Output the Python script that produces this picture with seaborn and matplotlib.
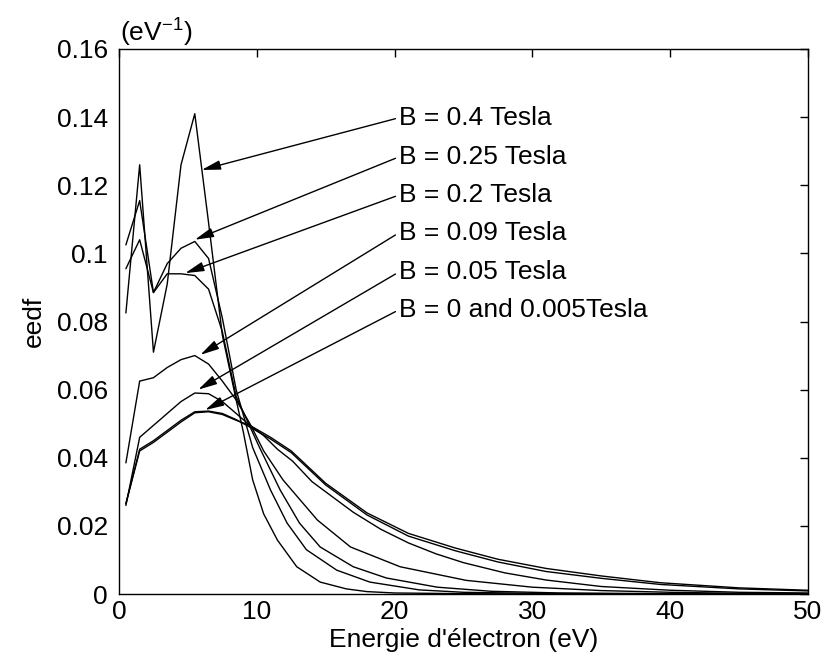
import matplotlib
matplotlib.use("Agg")
import matplotlib.pyplot as plt
import seaborn as sns
import pandas as pd

# ---------------- data ----------------
B04_x = [0.5, 1.5, 2.5, 3.5, 4.5, 5.5, 6.5, 7.5, 8.5, 9.0, 9.7, 10.5, 11.5, 12.9, 14.6, 16.5, 18, 20, 25, 30, 40, 50]
B04_y = [0.0825, 0.126, 0.071, 0.091, 0.126, 0.141, 0.109, 0.076, 0.057, 0.048, 0.0335, 0.0235, 0.0158, 0.008, 0.0035, 0.0015, 0.0007, 0.0003, 0.0001, 0.0, 0.0, 0.0]

B025_x = [0.5, 1.5, 2.5, 3.5, 4.5, 5.5, 6.5, 7.5, 8.5, 9.7, 11, 12.2, 13.6, 15.8, 18.2, 21.8, 25, 30, 40, 50]
B025_y = [0.1025, 0.1155, 0.0885, 0.097, 0.1015, 0.1035, 0.0985, 0.081, 0.06, 0.043, 0.0305, 0.0208, 0.013, 0.007, 0.0035, 0.0012, 0.0005, 0.0002, 0.0, 0.0]

B02_x = [0.5, 1.5, 2.5, 3.5, 4.5, 5.5, 6.5, 7.5, 8.5, 10.2, 11.7, 13.1, 14.6, 17, 19.4, 23.1, 27, 32, 40, 50]
B02_y = [0.0955, 0.104, 0.0885, 0.094, 0.094, 0.0935, 0.0895, 0.077, 0.058, 0.043, 0.0305, 0.0208, 0.0138, 0.008, 0.0047, 0.002, 0.0008, 0.0003, 0.0001, 0.0]

B009_x = [0.5, 1.5, 2.5, 3.5, 4.5, 5.5, 6.5, 7.5, 8.5, 9.5, 10.5, 11.9, 14.4, 16.8, 20.4, 25.2, 30, 35, 40, 45, 50]
B009_y = [0.0385, 0.0625, 0.0635, 0.0665, 0.0688, 0.07, 0.0675, 0.0625, 0.057, 0.05, 0.042, 0.0335, 0.0217, 0.0138, 0.008, 0.004, 0.002, 0.001, 0.0005, 0.0002, 0.0001]

B005_x = [0.5, 1.5, 2.5, 3.5, 4.5, 5.5, 6.5, 7.5, 8.5, 9.5, 10.5, 11.5, 12.6, 14, 15.5, 17, 19, 21, 23, 25, 28, 31, 35, 40, 45, 50]
B005_y = [0.026, 0.046, 0.0495, 0.053, 0.0565, 0.059, 0.0588, 0.0565, 0.053, 0.0495, 0.0465, 0.0425, 0.039, 0.033, 0.0285, 0.024, 0.019, 0.015, 0.0118, 0.0092, 0.0062, 0.0041, 0.0022, 0.0011, 0.0005, 0.0003]

B0_x = [0.5, 1.5, 2.5, 3.5, 4.5, 5.5, 6.5, 7.5, 8.5, 9.5, 11, 12.5, 15, 18, 21, 24.4, 27.5, 31, 35, 39.3, 45, 50]
B0_y = [0.0265, 0.042, 0.0445, 0.0475, 0.0505, 0.0532, 0.0535, 0.0527, 0.051, 0.0495, 0.046, 0.042, 0.0325, 0.0238, 0.0178, 0.0135, 0.0102, 0.0075, 0.0053, 0.0033, 0.0018, 0.0011]

B0005_x = [0.5, 1.5, 2.5, 3.5, 4.5, 5.5, 6.5, 7.5, 8.5, 9.5, 11, 12.5, 15, 18, 21, 24.4, 27.5, 31, 35, 39.3, 45, 50]
B0005_y = [0.0265, 0.0425, 0.045, 0.048, 0.051, 0.0535, 0.0537, 0.053, 0.0512, 0.049, 0.0455, 0.0415, 0.032, 0.0232, 0.017, 0.0127, 0.0094, 0.0066, 0.0046, 0.0028, 0.0015, 0.0009]

series = {
    "0.4": (B04_x, B04_y),
    "0.25": (B025_x, B025_y),
    "0.2": (B02_x, B02_y),
    "0.09": (B009_x, B009_y),
    "0.05": (B005_x, B005_y),
    "0": (B0_x, B0_y),
    "0.005": (B0005_x, B0005_y),
}

labels = ["B = 0.4 Tesla", "B = 0.25 Tesla", "B = 0.2 Tesla",
          "B = 0.09 Tesla", "B = 0.05 Tesla", "B = 0 and 0.005Tesla"]
# arrow tips (E, eedf) on the curves and label anchor (E, eedf)
tip_x = [6.0, 5.5, 4.8, 5.9, 5.75, 6.25]
tip_y = [0.1245, 0.1040, 0.0942, 0.0702, 0.0600, 0.0540]
lab_x = [20.3, 20.3, 20.3, 20.3, 20.3, 20.3]
lab_y = [0.1398, 0.1283, 0.1171, 0.1060, 0.0945, 0.0834]

xticks = [0, 10, 20, 30, 40, 50]
xticklabels = ["0", "10", "20", "30", "40", "50"]
yticks = [0, 0.02, 0.04, 0.06, 0.08, 0.10, 0.12, 0.14, 0.16]
yticklabels = ["0", "0.02", "0.04", "0.06", "0.08", "0.1", "0.12", "0.14", "0.16"]

# ---------------- plotting ----------------
sns.set_theme(style="white")
plt.rcParams["font.family"] = ["Liberation Sans", "DejaVu Sans"]
plt.rcParams["mathtext.fontset"] = "custom"
plt.rcParams["mathtext.rm"] = "Liberation Sans"
plt.rcParams["mathtext.default"] = "regular"
plt.rcParams["text.color"] = "black"
plt.rcParams["axes.labelcolor"] = "black"

rows = []
for b, (xs, ys) in series.items():
    for x, y in zip(xs, ys):
        rows.append({"B": b, "E": x, "f": y})
df = pd.DataFrame(rows)

fig = plt.figure(figsize=(8.27, 6.61), dpi=100)
ax = fig.add_axes([119 / 827, 1 - 594 / 661, 689 / 827, 545 / 661])

for b in series:
    sns.lineplot(data=df[df["B"] == b], x="E", y="f", ax=ax, color="black",
                 lw=1.0, estimator=None, sort=False, legend=False)

ax.set_xlim(0, 50)
ax.set_ylim(0, 0.16)
ax.set_xticks(xticks)
ax.set_xticklabels(xticklabels)
ax.set_yticks(yticks)
ax.set_yticklabels(yticklabels)
ax.tick_params(direction="in", top=True, right=True, length=6, width=1,
               labelsize=19, colors="black")
ax.tick_params(axis="y", pad=8)
ax.tick_params(axis="x", pad=4)
for s in ax.spines.values():
    s.set_visible(True)
    s.set_color("black")
    s.set_linewidth(1)

ax.set_xlabel("Energie d'électron (eV)", fontsize=19, labelpad=3, color="black")
ax.set_ylabel("eedf", fontsize=19, labelpad=8, color="black")
ax.text(0.002, 1.0, r"(eV$^{-1}$)", transform=ax.transAxes, ha="left",
        va="bottom", fontsize=19, color="black")

for t, tx, ty, lx, ly in zip(labels, tip_x, tip_y, lab_x, lab_y):
    ax.annotate(t, xy=(tx, ty), xytext=(lx, ly), textcoords="data",
                ha="left", va="center", fontsize=19, color="black",
                arrowprops=dict(arrowstyle="-|>,head_length=0.6,head_width=0.15",
                                color="black", lw=1, shrinkA=0, shrinkB=0,
                                relpos=(0, 0.5)))

fig.savefig("out.png", dpi=100, facecolor="white")
